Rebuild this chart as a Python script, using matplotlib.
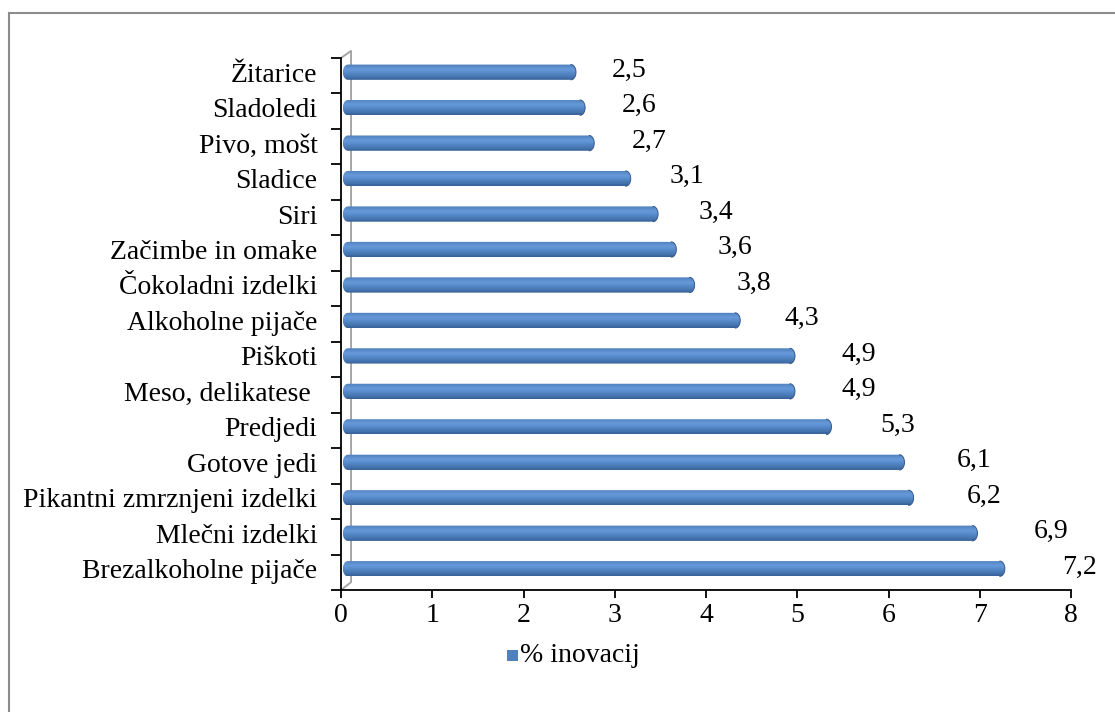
import numpy as np
import matplotlib
matplotlib.use("Agg")
import matplotlib.pyplot as plt
from matplotlib.path import Path
from matplotlib.patches import PathPatch, Rectangle
from matplotlib.lines import Line2D
from matplotlib.colors import LinearSegmentedColormap

categories = [
    "Brezalkoholne pijače", "Mlečni izdelki", "Pikantni zmrznjeni izdelki",
    "Gotove jedi", "Predjedi", "Meso, delikatese ", "Piškoti",
    "Alkoholne pijače", "Čokoladni izdelki", "Začimbe in omake", "Siri",
    "Sladice", "Pivo, mošt", "Sladoledi", "Žitarice",
]
values = [7.2, 6.9, 6.2, 6.1, 5.3, 4.9, 4.9, 4.3, 3.8, 3.6, 3.4, 3.1, 2.7, 2.6, 2.5]
value_labels = ["7,2", "6,9", "6,2", "6,1", "5,3", "4,9", "4,9", "4,3",
                "3,8", "3,6", "3,4", "3,1", "2,7", "2,6", "2,5"]
xticks = [0, 1, 2, 3, 4, 5, 6, 7, 8]
series_name = "% inovacij"

plt.rcParams["font.family"] = ["Liberation Serif", "DejaVu Serif"]
FS = 20

fig = plt.figure(figsize=(11.15, 7.12), dpi=100)
ax = fig.add_axes([341 / 1115, 1 - 590 / 712, 730 / 1115, 532 / 712])

y0, y1 = -0.6, 14.4
ax.set_xlim(0, 8)
ax.set_ylim(y0, y1)

# cylinder shading: darker bottom edge, light band above the middle
cyl = LinearSegmentedColormap.from_list(
    "cyl", ["#355e93", "#4474b0", "#4f81bd", "#5a8ecf", "#6799d8", "#5b8dcc", "#4b7dba"])
grad = np.linspace(0, 1, 64).reshape(-1, 1)

h = 0.43
rx = 0.055
ypos = np.arange(len(values))
bars = ax.barh(ypos, values, height=h, left=0.02, color="none", edgecolor="none")

for bar in bars:
    x0 = bar.get_x()
    x1 = x0 + bar.get_width()
    yc = bar.get_y() + h / 2
    t = np.linspace(-np.pi / 2, np.pi / 2, 30)
    right = np.column_stack([x1 + rx * np.cos(t), yc + (h / 2) * np.sin(t)])
    left = np.column_stack([x0 + rx - rx * np.cos(t[::-1]), yc + (h / 2) * np.sin(t[::-1])])
    pts = np.vstack([right, left, right[:1]])
    codes = [Path.MOVETO] + [Path.LINETO] * (len(pts) - 2) + [Path.CLOSEPOLY]
    clip = PathPatch(Path(pts, codes), transform=ax.transData, facecolor="none", edgecolor="none")
    ax.add_patch(clip)
    im = ax.imshow(grad, cmap=cyl, aspect="auto", origin="lower",
                   extent=[x0, x1 + rx, yc - h / 2, yc + h / 2], zorder=3)
    im.set_clip_path(clip)
    # end cap outline
    ax.plot(x1 + rx * np.cos(t), yc + (h / 2) * np.sin(t), color="#33598a", lw=0.7, zorder=4)

for v, lab, y in zip(values, value_labels, ypos):
    ax.text(0.35 + 1.049 * v, y + 0.05, lab, fontsize=FS, va="center", ha="left")

ax.set_xlim(0, 8)
ax.set_ylim(y0, y1)

# back wall outline
dx, dy = 0.11, 0.22
ax.add_line(Line2D([0, dx, dx, 0], [y0, y0 + dy, y1 + 0.2, y1],
                   color="#a0a0a0", lw=1.3, transform=ax.transData, clip_on=False, zorder=2))

for s in ["top", "right"]:
    ax.spines[s].set_visible(False)
ax.spines["left"].set_linewidth(1.3)
ax.spines["bottom"].set_linewidth(1.3)

ax.set_xticks(xticks)
ax.set_xticklabels([str(t) for t in xticks], fontsize=FS)
ax.tick_params(axis="x", direction="out", length=6, width=1.3, pad=3)

ax.set_yticks(ypos)
ax.set_yticklabels(categories, fontsize=FS)
ax.tick_params(axis="y", which="major", length=0, pad=17)
ax.set_yticks(np.arange(y0, y1 + 0.01, 1.0), minor=True)
ax.tick_params(axis="y", which="minor", direction="out", length=7, width=1.3)
ax.yaxis.set_minor_formatter(plt.NullFormatter())

# legend
fig.add_artist(Rectangle((507 / 1115, 1 - 661 / 712), 11 / 1115, 11 / 712,
                         transform=fig.transFigure, facecolor="#4f81bd", edgecolor="none"))
fig.text(520 / 1115, 1 - 656 / 712, series_name, fontsize=FS, va="center", ha="left")

# chart frame
fig.add_artist(Line2D([9 / 1115, 9 / 1115], [0, 1 - 13 / 712], transform=fig.transFigure,
                      color="#8c8c8c", lw=1.5))
fig.add_artist(Line2D([9 / 1115, 1], [1 - 13 / 712, 1 - 13 / 712], transform=fig.transFigure,
                      color="#8c8c8c", lw=1.5))

fig.savefig("out.png", dpi=100)
